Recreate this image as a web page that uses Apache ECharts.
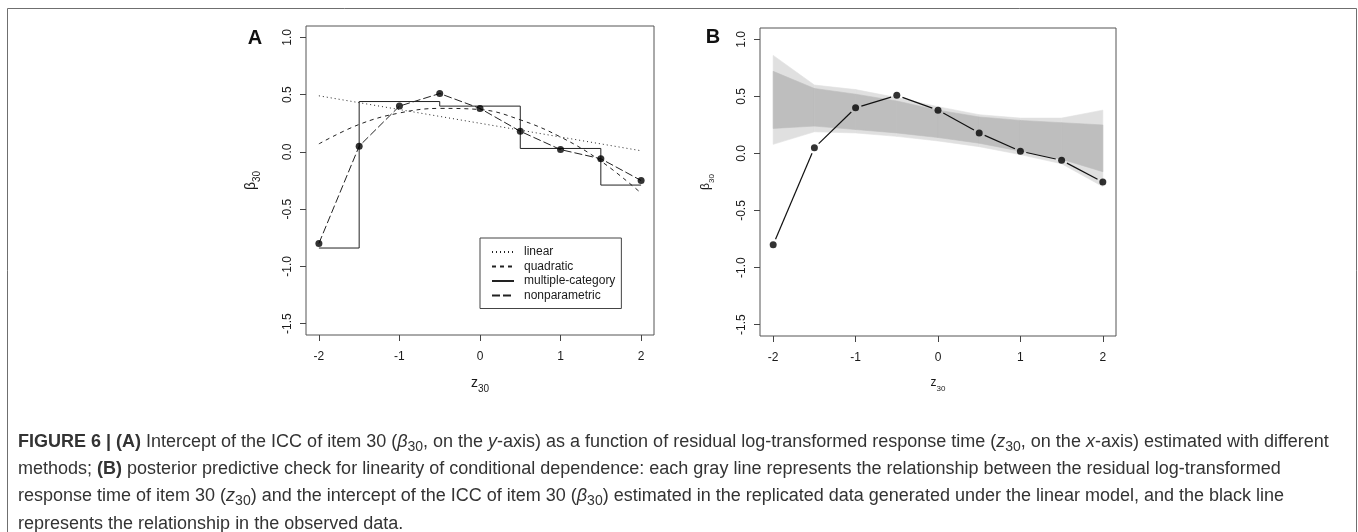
<!DOCTYPE html>
<html>
<head>
<meta charset="utf-8">
<script src="https://cdn.jsdelivr.net/npm/echarts@6/dist/echarts.min.js"></script>
<style>
  html, body { margin: 0; padding: 0; background: #fff; }
  #chart { width: 1358px; height: 532px; }
</style>
</head>
<body>
<div id="chart"></div>
<script>
// values
const zVals = [-2, -1.5, -1, -0.5, 0, 0.5, 1, 1.5, 2];
const observed = [-0.80, 0.05, 0.40, 0.51, 0.38, 0.18, 0.02, -0.06, -0.25];
const quadraticFit = [0.07, 0.24, 0.34, 0.38, 0.37, 0.28, 0.13, -0.08, -0.36];
const linearX = [-2, 2];
const linearY = [0.49, 0.01];
const stepX = [-2, -1.5, -0.5, 0.5, 1.5, 2];
const stepY = [-0.84, 0.44, 0.40, 0.03, -0.29, -0.29];

// envelope of the replicated (gray) lines in panel B
const bandOuterLo = [0.08, 0.19, 0.18, 0.15, 0.11, 0.06, -0.01, -0.09, -0.29];
const bandOuterHi = [0.86, 0.60, 0.56, 0.49, 0.41, 0.34, 0.31, 0.31, 0.38];
const bandCoreLo = [0.22, 0.24, 0.21, 0.18, 0.14, 0.09, 0.02, -0.05, -0.16];
const bandCoreHi = [0.72, 0.57, 0.52, 0.46, 0.38, 0.32, 0.29, 0.27, 0.25];

const xTicks = [-2, -1, 0, 1, 2];
const yTicks = [-1.5, -1, -0.5, 0, 0.5, 1];

const captionLines = [
  "{b|FIGURE 6 | (A)} Intercept of the ICC of item 30 ({i|β}{s|30}, on the {i|y}-axis) as a function of residual log-transformed response time ({i|z}{s|30}, on the {i|x}-axis) estimated with different",
  "methods; {b|(B)} posterior predictive check for linearity of conditional dependence: each gray line represents the relationship between the residual log-transformed",
  "response time of item 30 ({i|z}{s|30}) and the intercept of the ICC of item 30 ({i|β}{s|30}) estimated in the replicated data generated under the linear model, and the black line",
  "represents the relationship in the observed data."
];

const FONT = "Liberation Sans, Arial, Helvetica, sans-serif";
const CAP_SIZE = 18;
const ink = "#1a1a1a";

function pairs(xs, ys) {
  return xs.map((x, i) => [x, ys[i]]);
}

function xAxisFor(idx, nameSize) {
  return {
    gridIndex: idx,
    type: "value",
    min: -2.16,
    max: 2.16,
    name: "{g|z}{s|30}",
    nameLocation: "middle",
    nameGap: 41,
    nameTextStyle: {
      verticalAlign: "top",
      rich: {
        g: { fontSize: nameSize, fontFamily: FONT, color: ink, lineHeight: nameSize + 4, verticalAlign: "top" },
        s: { fontSize: nameSize - 4, fontFamily: FONT, color: ink, lineHeight: nameSize + 4, verticalAlign: "bottom" }
      }
    },
    axisLine: { show: false, onZero: false },
    splitLine: { show: false },
    axisTick: { show: true, length: 6, customValues: xTicks, lineStyle: { color: "#444" } },
    axisLabel: { customValues: xTicks, margin: 16, fontSize: 12, fontFamily: FONT, color: ink }
  };
}

function yAxisFor(idx, nameSize) {
  return {
    gridIndex: idx,
    type: "value",
    min: -1.6,
    max: 1.1,
    name: "{g|β}{s|30}",
    nameLocation: "middle",
    nameRotate: 90,
    nameGap: 44,
    nameTextStyle: {
      rich: {
        g: { fontSize: nameSize, fontFamily: FONT, color: ink, lineHeight: nameSize + 4, verticalAlign: "top" },
        s: { fontSize: nameSize - 4, fontFamily: FONT, color: ink, lineHeight: nameSize + 4, verticalAlign: "bottom" }
      }
    },
    axisLine: { show: false, onZero: false },
    splitLine: { show: false },
    axisTick: { show: true, length: 6, customValues: yTicks, lineStyle: { color: "#444" } },
    axisLabel: {
      customValues: yTicks,
      rotate: 90,
      margin: 12,
      fontSize: 12,
      fontFamily: FONT,
      color: ink,
      formatter: (v) => v.toFixed(1)
    }
  };
}

// one quad per interval between two z values, filled between lo and hi
function bandSeries(name, lo, hi, color) {
  return {
    name,
    type: "custom",
    xAxisIndex: 1, yAxisIndex: 1,
    data: zVals.slice(0, -1).map((x, i) => [x, lo[i], hi[i], zVals[i + 1], lo[i + 1], hi[i + 1]]),
    encode: { x: [0, 3], y: [1, 2, 4, 5] },
    renderItem: (params, api) => {
      const p1 = api.coord([api.value(0), api.value(1)]);
      const p2 = api.coord([api.value(3), api.value(4)]);
      const p3 = api.coord([api.value(3), api.value(5)]);
      const p4 = api.coord([api.value(0), api.value(2)]);
      return {
        type: "polygon",
        shape: { points: [p1, p2, p3, p4] },
        style: { fill: color, stroke: color, lineWidth: 0.6 }
      };
    },
    silent: true,
    z: 1
  };
}

const chart = echarts.init(document.getElementById("chart"), null, { renderer: "canvas" });

const option = {
  animation: false,
  backgroundColor: "#fff",
  grid: [
    { left: 306, top: 26, width: 348, height: 309, show: true, borderColor: "#555", borderWidth: 1 },
    { left: 760, top: 28, width: 356, height: 308, show: true, borderColor: "#555", borderWidth: 1 }
  ],
  xAxis: [xAxisFor(0, 14), xAxisFor(1, 12)],
  yAxis: [yAxisFor(0, 14), yAxisFor(1, 12)],
  legend: {
    data: ["linear", "quadratic", "multiple-category", "nonparametric"],
    orient: "vertical",
    left: 480,
    top: 238,
    padding: [8, 6, 7, 11],
    itemGap: 2.5,
    itemWidth: 22,
    itemHeight: 12,
    borderColor: "#444",
    borderWidth: 1,
    backgroundColor: "#fff",
    selectedMode: false,
    itemStyle: { opacity: 0, borderWidth: 0 },
    textStyle: { fontSize: 12, fontFamily: FONT, color: ink, padding: [0, 0, 0, 5] }
  },
  graphic: [
    {
      type: "rect",
      shape: { x: 7.5, y: 8.5, width: 1349, height: 560 },
      style: { fill: "none", stroke: "#6f6f6f", lineWidth: 1 }
    },
    {
      type: "text",
      style: { text: "A", x: 255, y: 38, font: "bold 20px " + FONT, fill: "#111", align: "center", verticalAlign: "middle" }
    },
    {
      type: "text",
      style: { text: "B", x: 713, y: 37, font: "bold 20px " + FONT, fill: "#111", align: "center", verticalAlign: "middle" }
    }
  ].concat(captionLines.map((line, i) => ({
    type: "text",
    style: {
      text: line,
      x: 18,
      y: 442 + i * 27.2,
      fontSize: CAP_SIZE,
      fontFamily: FONT,
      fill: "#333",
      verticalAlign: "middle",
      rich: {
        b: { fontSize: CAP_SIZE, fontFamily: FONT, fontWeight: "bold", fill: "#333", lineHeight: 24 },
        i: { fontSize: CAP_SIZE, fontFamily: FONT, fontStyle: "italic", fill: "#333", lineHeight: 24 },
        s: { fontSize: CAP_SIZE - 4, fontFamily: FONT, fill: "#333", lineHeight: 24, verticalAlign: "bottom" }
      }
    }
  }))),
  series: [
    // panel A
    {
      name: "linear",
      type: "line",
      xAxisIndex: 0, yAxisIndex: 0,
      data: pairs(linearX, linearY),
      symbol: "none",
      itemStyle: { color: "#222" },
      lineStyle: { color: "#222", width: 1, type: [1, 3] }
    },
    {
      name: "quadratic",
      type: "line",
      xAxisIndex: 0, yAxisIndex: 0,
      data: pairs(zVals, quadraticFit),
      smooth: 0.4,
      symbol: "none",
      itemStyle: { color: "#222" },
      lineStyle: { color: "#222", width: 1, type: [4, 4] }
    },
    {
      name: "multiple-category",
      type: "line",
      xAxisIndex: 0, yAxisIndex: 0,
      data: pairs(stepX, stepY),
      step: "end",
      symbol: "none",
      itemStyle: { color: "#222" },
      lineStyle: { color: "#222", width: 1 }
    },
    {
      name: "nonparametric",
      type: "line",
      xAxisIndex: 0, yAxisIndex: 0,
      data: pairs(zVals, observed),
      symbol: "none",
      itemStyle: { color: "#222" },
      lineStyle: { color: "#222", width: 1, type: [8, 3] }
    },
    {
      name: "observed A",
      type: "scatter",
      xAxisIndex: 0, yAxisIndex: 0,
      data: pairs(zVals, observed),
      symbolSize: 7,
      itemStyle: { color: "#000" },
      z: 5
    },
    // panel B: gray envelope of the replicated lines
    bandSeries("replicated halo", bandOuterLo, bandOuterHi, "#e0e0e0"),
    bandSeries("replicated core", bandCoreLo, bandCoreHi, "#bebebe"),
    // panel B: observed line with gaps round the points
    {
      name: "observed B line",
      type: "custom",
      xAxisIndex: 1, yAxisIndex: 1,
      data: zVals.slice(0, -1).map((x, i) => [x, observed[i], zVals[i + 1], observed[i + 1]]),
      encode: { x: [0, 2], y: [1, 3] },
      renderItem: (params, api) => {
        const a = api.coord([api.value(0), api.value(1)]);
        const b = api.coord([api.value(2), api.value(3)]);
        const dx = b[0] - a[0], dy = b[1] - a[1];
        const len = Math.sqrt(dx * dx + dy * dy);
        const gap = 6;
        const ux = dx / len, uy = dy / len;
        return {
          type: "line",
          shape: { x1: a[0] + ux * gap, y1: a[1] + uy * gap, x2: b[0] - ux * gap, y2: b[1] - uy * gap },
          style: { stroke: "#111", lineWidth: 1.2 }
        };
      },
      z: 4
    },
    {
      name: "observed B",
      type: "scatter",
      xAxisIndex: 1, yAxisIndex: 1,
      data: pairs(zVals, observed),
      symbolSize: 7,
      itemStyle: { color: "#000" },
      z: 5
    }
  ]
};

chart.setOption(option);
window.addEventListener("resize", chart.resize);
</script>
</body>
</html>
